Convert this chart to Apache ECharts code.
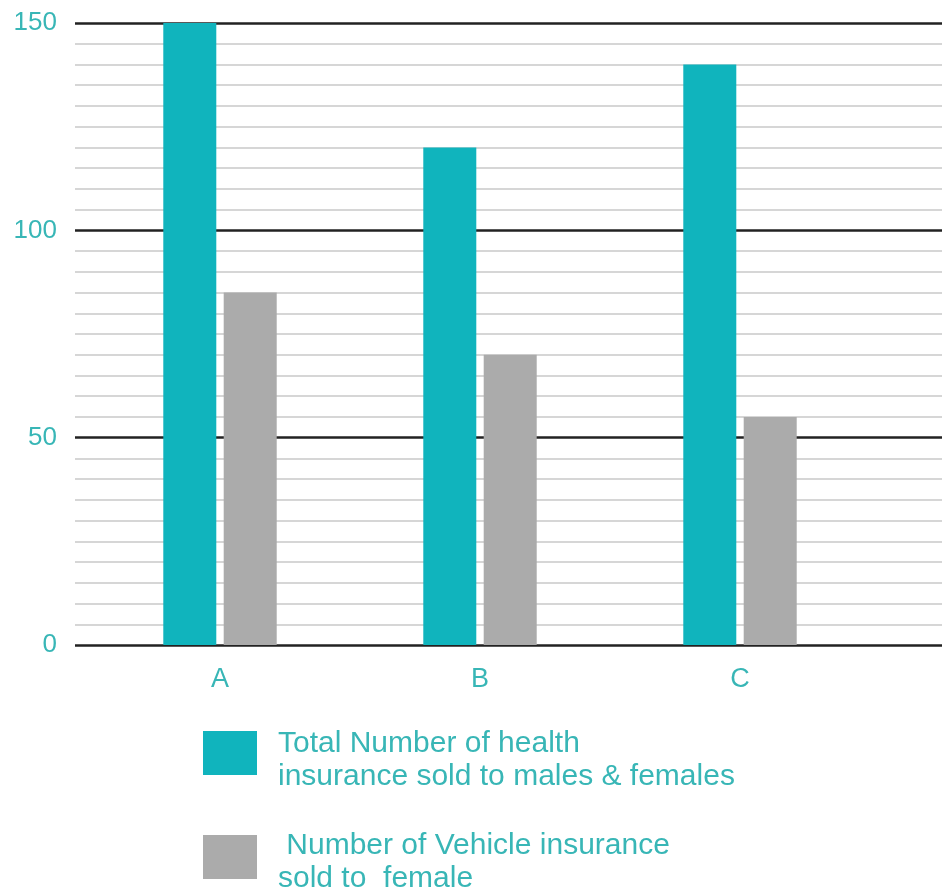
<!DOCTYPE html>
<html>
<head>
<meta charset="utf-8">
<script src="https://cdn.jsdelivr.net/npm/echarts@6/dist/echarts.min.js"></script>
<style>html,body{margin:0;padding:0;background:#fff}#c{width:942px;height:891px}</style>
</head>
<body>
<div id="c"></div>
<script>
var categories = ['A', 'B', 'C'];
var healthTotal = [150, 120, 140];
var vehicleFemale = [85, 70, 55];
var seriesNames = ['Total Number of health\ninsurance sold to males & females', ' Number of Vehicle insurance\nsold to  female'];
var yMin = 0, yMax = 150, yStep = 50;

var teal = '#10b4bd';
var gray = '#ababab';
var textTeal = '#38b6b6';
var chart = echarts.init(document.getElementById('c'));
var legendText = {color: textTeal, fontSize: 30, lineHeight: 33, fontFamily: 'Liberation Sans', padding: [0, 0, 0, 16]};
chart.setOption({
  animation: false,
  backgroundColor: '#fff',
  grid: [
    {left: 75, right: 0, top: 23, bottom: 246},
    {left: 90, right: 72, top: 23, bottom: 246}
  ],
  xAxis: [
    {gridIndex: 0, type: 'value', show: false, min: 0, max: 1},
    {gridIndex: 1, type: 'category', data: categories,
     axisLine: {show: false}, axisTick: {show: false},
     axisLabel: {color: textTeal, fontSize: 27, margin: 21, fontFamily: 'Liberation Sans'}}
  ],
  yAxis: [
    {gridIndex: 0, type: 'value', min: yMin, max: yMax, interval: yStep,
     axisLine: {show: false}, axisTick: {show: false},
     axisLabel: {color: textTeal, fontSize: 26, margin: 18, fontFamily: 'Liberation Sans'},
     splitLine: {show: true, lineStyle: {color: '#222', width: 2.5}},
     minorTick: {show: false, splitNumber: 10},
     minorSplitLine: {show: true, lineStyle: {color: '#c9c9c9', width: 1.5}}},
    {gridIndex: 1, type: 'value', min: yMin, max: yMax, interval: yStep, show: false,
     splitLine: {show: false}}
  ],
  legend: [
    {left: 203, top: 727, padding: 0, itemWidth: 54, itemHeight: 58,
     icon: 'path://M0,0h54v44h-54z M0,58h1',
     textStyle: legendText, data: [seriesNames[0]]},
    {left: 203, top: 829, padding: 0, itemWidth: 54, itemHeight: 54,
     icon: 'path://M0,0h54v44h-54z M0,54h1',
     textStyle: legendText, data: [seriesNames[1]]}
  ],
  series: [
    {name: seriesNames[0], type: 'bar', xAxisIndex: 1, yAxisIndex: 1, data: healthTotal,
     barWidth: 53, barGap: '14%', itemStyle: {color: teal}},
    {name: seriesNames[1], type: 'bar', xAxisIndex: 1, yAxisIndex: 1, data: vehicleFemale,
     barWidth: 53, barGap: '14%', itemStyle: {color: gray}}
  ]
});
</script>
</body>
</html>
